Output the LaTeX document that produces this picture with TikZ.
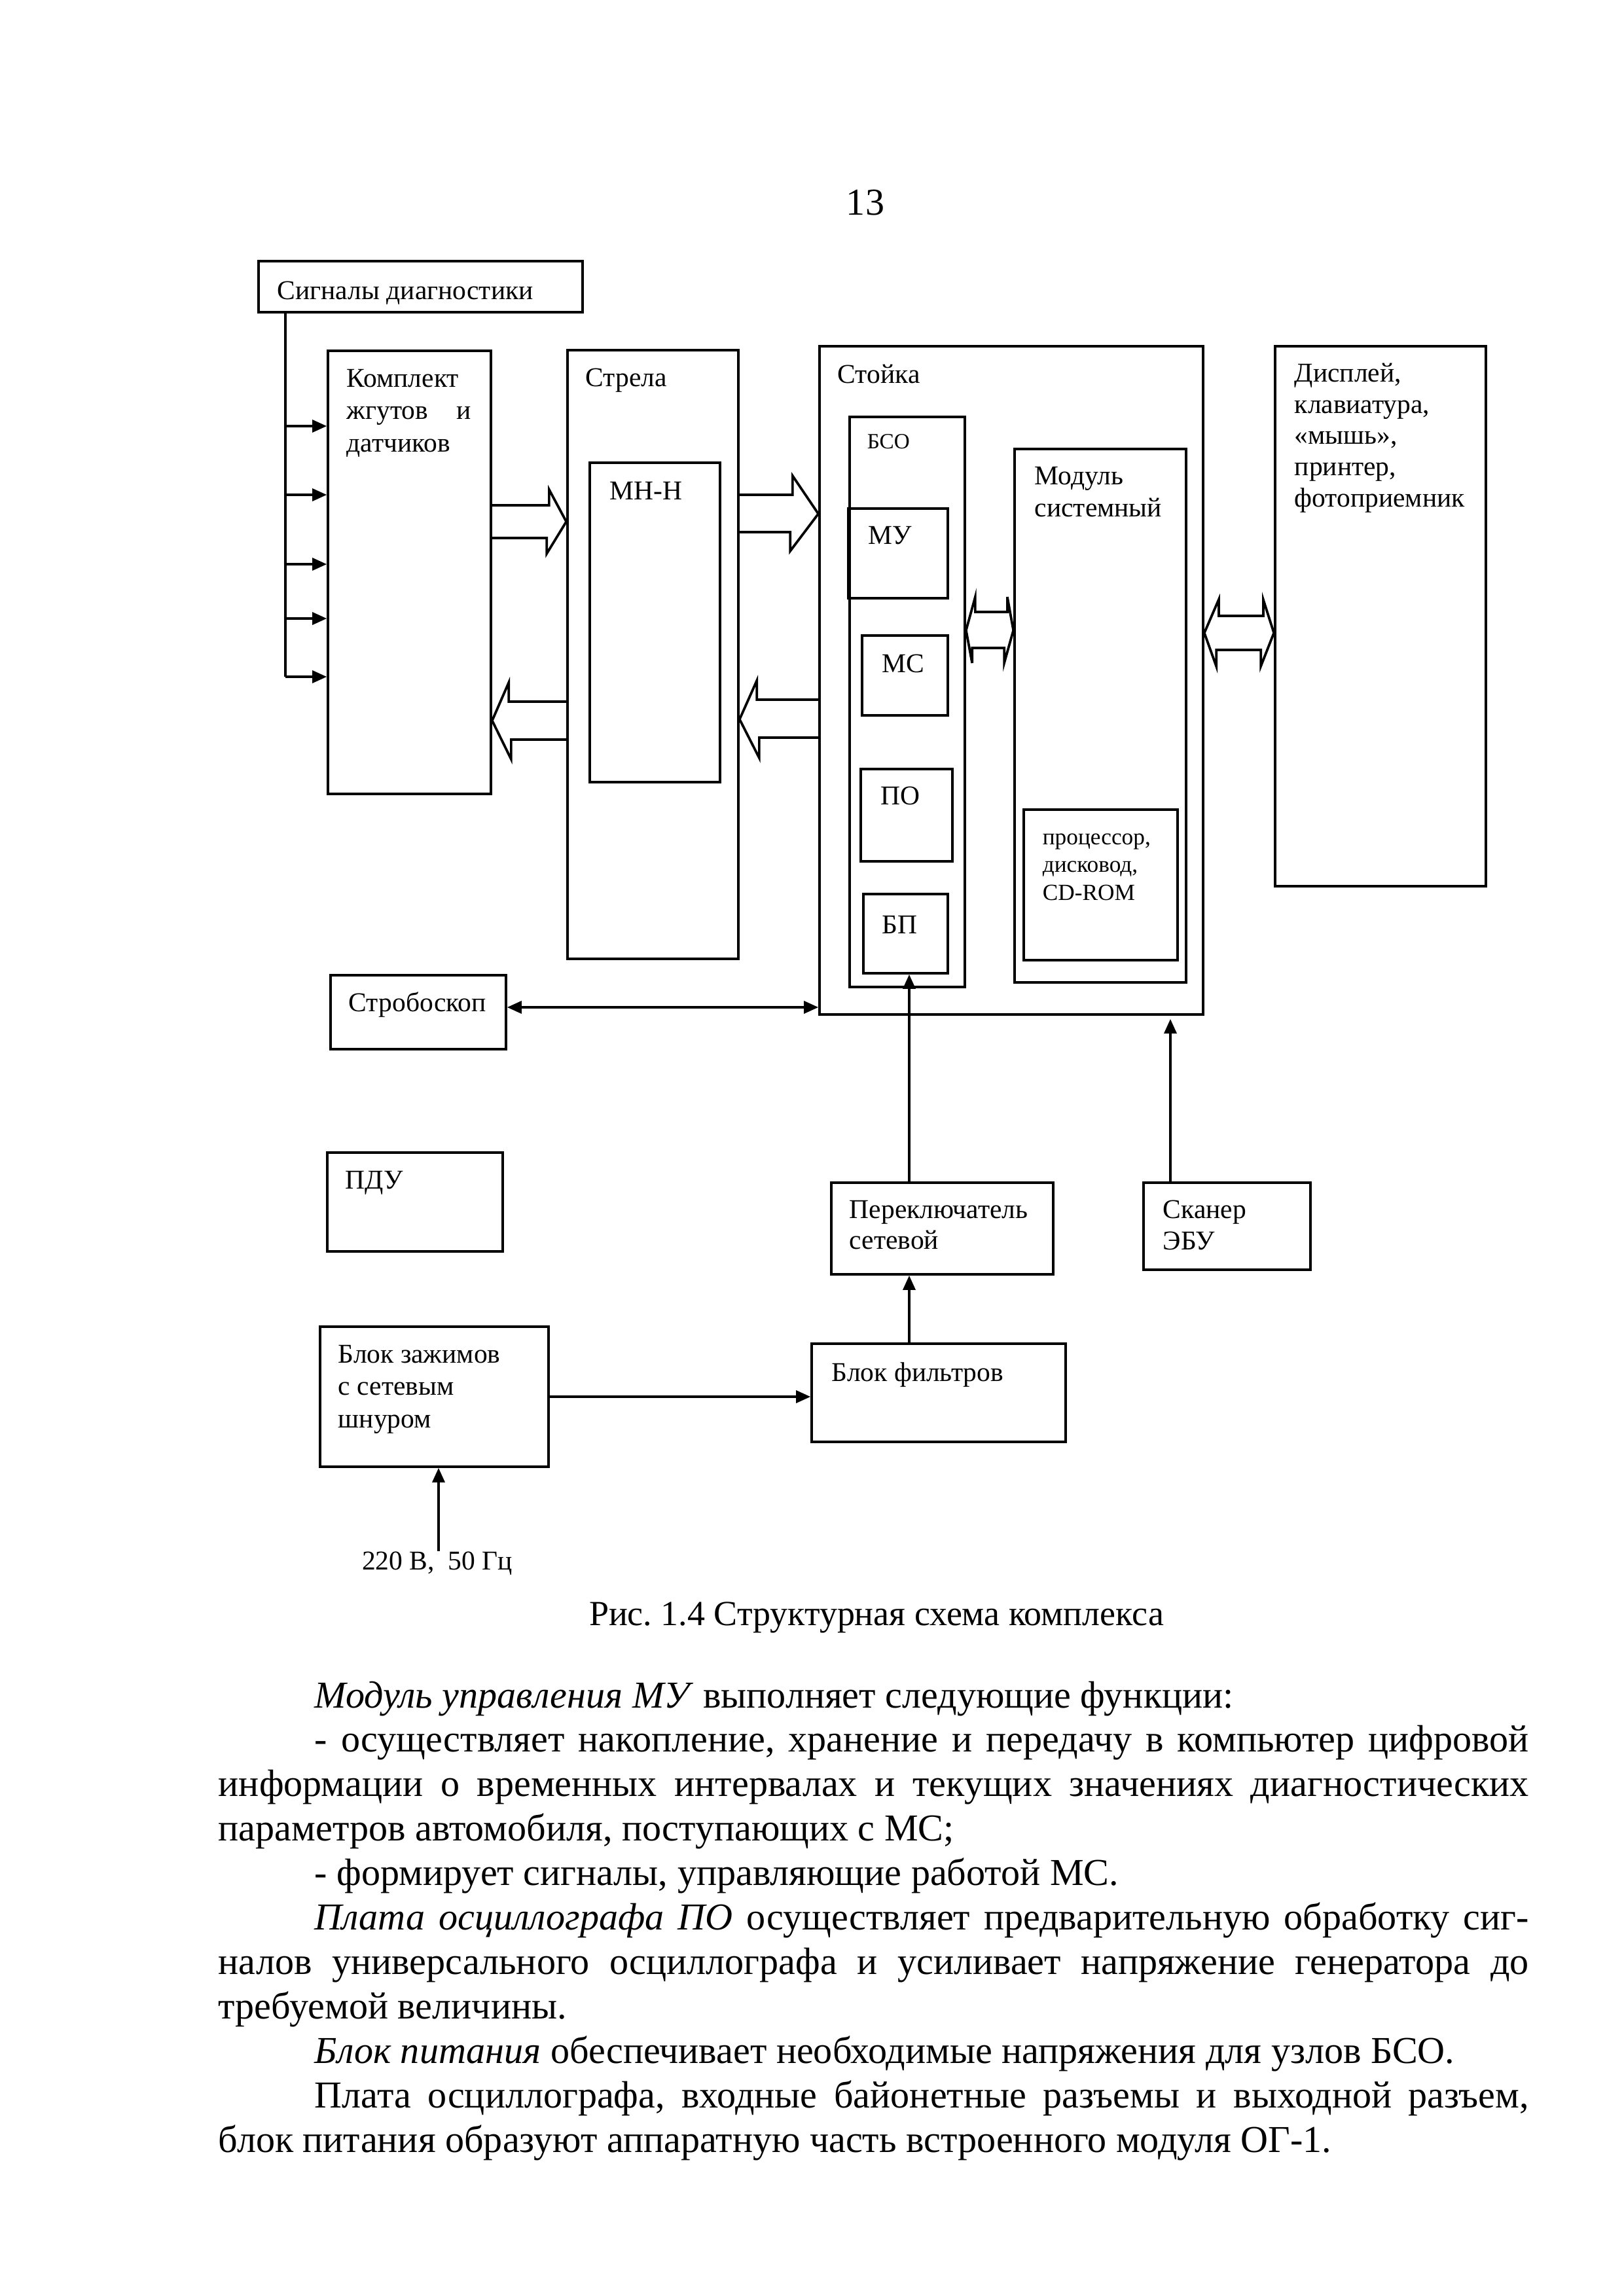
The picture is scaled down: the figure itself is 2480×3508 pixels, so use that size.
\documentclass[tikz,border=0pt]{standalone}
\usepackage{fontspec}
\setmainfont{Liberation Serif}
\usetikzlibrary{arrows.meta,fit,calc}
\newdimen\pxu \pxu=0.24bp
\frenchspacing
\begin{document}
\begin{tikzpicture}[x=0.24bp,y=-0.24bp,
  box/.style={draw, line width=0.9pt, inner sep=0pt},
  lbl/.style={anchor=north west, inner sep=0pt, align=left, font=\fontsize{10}{12}\selectfont},
  con/.style={line width=0.75pt},
  ar/.style={con, -{Triangle[length=5.3bp, width=4.6bp]}},
  arr/.style={con, {Triangle[length=5.3bp, width=4.6bp]}-{Triangle[length=5.3bp, width=4.6bp]}},
  blk/.style={line width=0.9pt, line join=miter},
  body/.style={anchor=base west, inner sep=0pt, font=\fontsize{14}{16.5}\selectfont},
]
\fill[white] (0,0) rectangle (2480,3508);
\useasboundingbox (0,0) rectangle (2480,3508);

% page number
\node[anchor=base, inner sep=0pt, font=\fontsize{14}{16}\selectfont] (pnum) at (1322,328) {13};

% boxes
\node[box, fit={(395,399) (890,477)}] (sig) {};
\node[box, fit={(501,536) (750,1213)}] (kompl) {};
\node[box, fit={(867,535) (1128,1465)}] (strela) {};
\node[box, fit={(901,707) (1100,1195)}] (mnn) {};
\node[box, fit={(1252,529) (1838,1550)}] (stoika) {};
\node[box, fit={(1298,637) (1474,1508)}] (bso) {};
\node[box, fit={(1296,777) (1448,914)}] (mu) {};
\node[box, fit={(1317,971) (1448,1093)}] (ms) {};
\node[box, fit={(1315,1175) (1455,1316)}] (po) {};
\node[box, fit={(1319,1366) (1448,1487)}] (bp) {};
\node[box, fit={(1550,686) (1812,1501)}] (modsys) {};
\node[box, fit={(1564,1237) (1799,1467)}] (proc) {};
\node[box, fit={(1948,529) (2270,1354)}] (disp) {};
\node[box, fit={(505,1490) (773,1603)}] (strob) {};
\node[box, fit={(500,1761) (768,1912)}] (pdu) {};
\node[box, fit={(1270,1807) (1609,1947)}] (perekl) {};
\node[box, fit={(1747,1807) (2002,1940)}] (scan) {};
\node[box, fit={(489,2027) (838,2241)}] (zazh) {};
\node[box, fit={(1240,2053) (1628,2203)}] (filt) {};

% labels
\node[lbl] (tsig) at (423,429) {Сигналы диагностики};
\node[lbl] (tkompl) at (529,563) {Комплект\\\makebox[190\pxu][s]{жгутов и}\\датчиков};
\node[lbl] (tstrela) at (894,562) {Стрела};
\node[lbl] (tmnn) at (931,735) {МН-Н};
\node[lbl] (tstoika) at (1279,556) {Стойка};
\node[lbl, font=\fontsize{8}{10}\selectfont] (tbso) at (1324,663) {БСО};
\node[lbl] (tmu) at (1326,803) {МУ};
\node[lbl] (tms) at (1347,999) {МС};
\node[lbl] (tpo) at (1345,1201) {ПО};
\node[lbl] (tbp) at (1347,1398) {БП};
\node[lbl, font=\fontsize{10}{11.8}\selectfont] (tmodsys) at (1580,712) {Модуль\\системный};
\node[lbl, font=\fontsize{8.5}{10.2}\selectfont] (tproc) at (1592,1273) {процессор,\\дисковод,\\CD-ROM};
\node[lbl, font=\fontsize{10}{11.5}\selectfont] (tdisp) at (1977,554) {Дисплей,\\клавиатура,\\«мышь»,\\принтер,\\фотоприемник};
\node[lbl] (tstrob) at (532,1515) {Стробоскоп};
\node[lbl] (tpdu) at (527,1788) {ПДУ};
\node[lbl, font=\fontsize{10}{11.5}\selectfont] (tperekl) at (1297,1833) {Переключатель\\сетевой};
\node[lbl, font=\fontsize{10}{11.5}\selectfont] (tscan) at (1776,1833) {Сканер\\ЭБУ};
\node[lbl, font=\fontsize{10}{12}\selectfont] (tzazh) at (516,2054) {Блок зажимов\\с сетевым\\шнуром};
\node[lbl] (tfilt) at (1270,2081) {Блок фильтров};
\node[anchor=north, inner sep=0pt, font=\fontsize{10}{12}\selectfont] (v220) at (668,2370) {220 В,\ \ 50 Гц};

% diagnostic signal bus
\coordinate (busend) at (436,1034);
\draw[con] (sig.south -| busend) -- (busend);
\draw[ar] (busend |- 0,651) -- (kompl.west |- 0,651);
\draw[ar] (busend |- 0,756) -- (kompl.west |- 0,756);
\draw[ar] (busend |- 0,862) -- (kompl.west |- 0,862);
\draw[ar] (busend |- 0,945) -- (kompl.west |- 0,945);
\draw[ar] (busend) -- (kompl.west |- busend);

% block arrows
\draw[blk] (kompl.east |- 0,772) -- ++(87,0) -- ++(0,-24) -- (strela.west |- 0,797) -- ++(-30,49) -- ++(0,-24) -- (kompl.east |- 0,822);
\draw[blk] (strela.west |- 0,1072) -- ++(-88,0) -- ++(0,-29) -- (kompl.east |- 0,1101) -- ++(29,59) -- ++(0,-30) -- (strela.west |- 0,1130);
\draw[blk] (strela.east |- 0,756) -- ++(81,0) -- ++(0,-29) -- (stoika.west |- 0,785) -- ++(-43,57) -- ++(0,-29) -- (strela.east |- 0,813);
\draw[blk] (stoika.west |- 0,1069) -- ++(-94,0) -- ++(0,-29) -- (strela.east |- 0,1099) -- ++(30,59) -- ++(0,-31) -- (stoika.west |- 0,1127);
\draw[blk] (bso.east |- 0,963) -- ++(14,-51) -- ++(0,23) -- ++(49,0) -- ++(0,-23) -- (modsys.west |- 0,963) -- ++(-14,50) -- ++(0,-23) -- ++(-49,0) -- ++(0,23) -- cycle;
\draw[blk] (stoika.east |- 0,967) -- ++(22,-51) -- ++(0,25) -- ++(68,0) -- ++(0,-25) -- (disp.west |- 0,967) -- ++(-20,51) -- ++(0,-25) -- ++(-68,0) -- ++(0,25) -- cycle;

% thin connectors
\draw[arr] (strob.east |- 0,1539) -- (stoika.west |- 0,1539);
\draw[ar] (perekl.north -| 1389,0) -- (bp.south -| 1389,0);
\coordinate (scantip) at (1788,1557);
\draw[ar] (scan.north -| scantip) -- (scantip);
\draw[ar] (filt.north -| 1389,0) -- (perekl.south -| 1389,0);
\draw[ar] (zazh.east |- 0,2134) -- (filt.west |- 0,2134);
\draw[ar] (v220.north -| 670,0) -- (zazh.south -| 670,0);

% caption
\node[anchor=base, inner sep=0pt, font=\fontsize{13}{15}\selectfont] (cap) at (1339,2483) {Рис. 1.4 Структурная схема комплекса};

% body text
\node[body] (l1) at (480,2609) {\textit{Модуль управления МУ} выполняет следующие функции:};
\node[body] (l2) at (480,2676.9) {\makebox[1855\pxu][s]{- осуществляет накопление, хранение и передачу в компьютер цифровой}};
\node[body] (l3) at (333,2744.8) {\makebox[2002\pxu][s]{информации о временных интервалах и текущих значениях диагностических}};
\node[body] (l4) at (333,2812.7) {параметров автомобиля, поступающих с МС;};
\node[body] (l5) at (480,2880.6) {- формирует сигналы, управляющие работой МС.};
\node[body] (l6) at (480,2948.5) {\makebox[1855\pxu][s]{\textit{Плата осциллографа ПО} осуществляет предварительную обработку сиг-}};
\node[body] (l7) at (333,3016.4) {\makebox[2002\pxu][s]{налов универсального осциллографа и усиливает напряжение генератора до}};
\node[body] (l8) at (333,3084.3) {требуемой величины.};
\node[body] (l9) at (480,3152.2) {\textit{Блок питания} обеспечивает необходимые напряжения для узлов БСО.};
\node[body] (l10) at (480,3220.1) {\makebox[1855\pxu][s]{Плата осциллографа, входные байонетные разъемы и выходной разъем,}};
\node[body] (l11) at (333,3288) {блок питания образуют аппаратную часть встроенного модуля ОГ-1.};
\end{tikzpicture}
\end{document}
